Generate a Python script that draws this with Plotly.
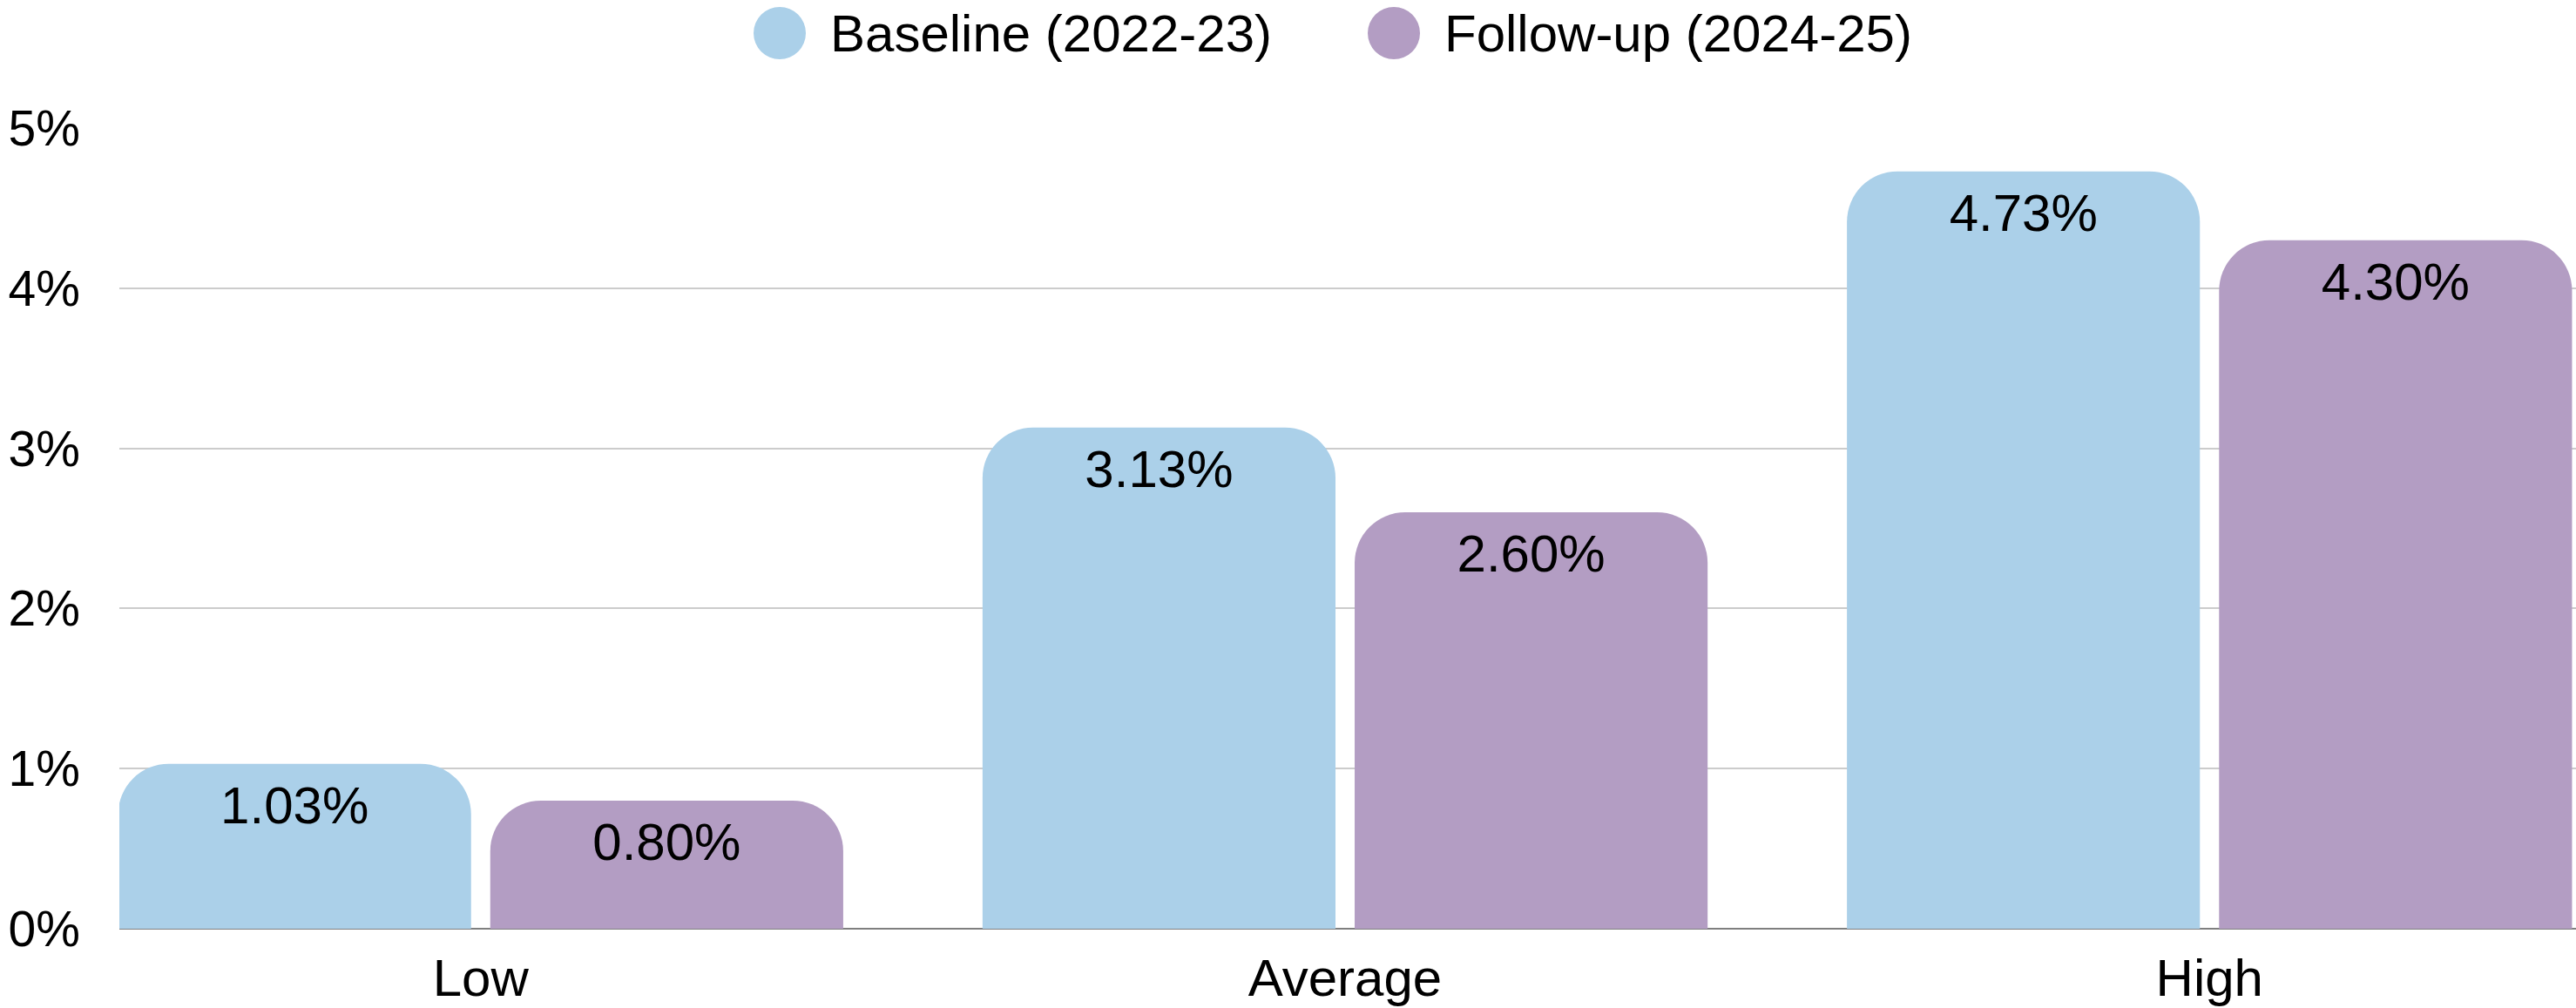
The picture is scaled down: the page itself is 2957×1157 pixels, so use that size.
import plotly.graph_objects as go

categories = ["Low", "Average", "High"]
series_names = ["Baseline (2022-23)", "Follow-up (2024-25)"]
baseline = [1.03, 3.13, 4.73]
followup = [0.80, 2.60, 4.30]
y_ticks = [0, 1, 2, 3, 4, 5]
y_tick_labels = ["0%", "1%", "2%", "3%", "4%", "5%"]
colors = ["#ABD0E9", "#B39DC3"]

FONT = "Liberation Sans, Arial, Helvetica, sans-serif"
BARGAP = 0.139

fig = go.Figure()
for i, (name, vals, col) in enumerate(zip(series_names, [baseline, followup], colors)):
    fig.add_trace(go.Bar(
        x=categories, y=vals, name=name,
        offsetgroup=str(i),
        marker=dict(color=col, line=dict(width=0)),
        showlegend=False,
        hovertemplate="%{x}: %{y:.2f}%<extra>" + name + "</extra>",
    ))
for i, (name, vals) in enumerate(zip(series_names, [baseline, followup])):
    fig.add_trace(go.Scatter(
        x=categories, y=vals, name=name,
        offsetgroup=str(i),
        mode="markers+text",
        marker=dict(size=35, color="rgba(0,0,0,0)", line=dict(width=0)),
        texttemplate="%{y:.2f}%",
        textposition="bottom center",
        textfont=dict(family=FONT, size=60, color="#000000"),
        showlegend=False,
        cliponaxis=False,
        hoverinfo="skip",
    ))

# custom legend (large circular swatches)
legend_x = [0.2688, 0.5188]
legend_y = 1.1186
for name, col, lx in zip(series_names, colors, legend_x):
    fig.add_shape(type="circle", xref="paper", yref="paper",
                  xsizemode="pixel", ysizemode="pixel",
                  xanchor=lx, yanchor=legend_y,
                  x0=-30, x1=30, y0=-30, y1=30,
                  fillcolor=col, line=dict(width=0))
    fig.add_annotation(x=lx + 0.0200, y=legend_y, xref="paper", yref="paper",
                       text=name, showarrow=False, xanchor="left", yanchor="middle",
                       font=dict(family=FONT, size=60, color="#000000"))

fig.update_layout(
    width=2957, height=1157,
    margin=dict(l=137, r=0, t=147, b=91, pad=0),
    paper_bgcolor="white", plot_bgcolor="white",
    barmode="group", bargap=BARGAP, bargroupgap=0.0515,
    scattermode="group", scattergap=BARGAP,
    barcornerradius=58,
    font=dict(family=FONT, size=57, color="#000000"),
)
fig.update_xaxes(
    range=[-0.418, 2.424],
    showgrid=False, showline=False, ticks="",
    tickfont=dict(family=FONT, size=60, color="#000000"),
    ticklabelstandoff=16,
)
fig.update_yaxes(
    range=[0, 5],
    tickvals=y_ticks, ticktext=y_tick_labels,
    showgrid=True, gridcolor="#CCCCCC", gridwidth=2,
    zeroline=True, zerolinecolor="#7F7F7F", zerolinewidth=2,
    showline=False, ticks="",
    tickfont=dict(family=FONT, size=57, color="#000000"),
    ticklabelstandoff=44,
)

fig.write_html("out.html")
